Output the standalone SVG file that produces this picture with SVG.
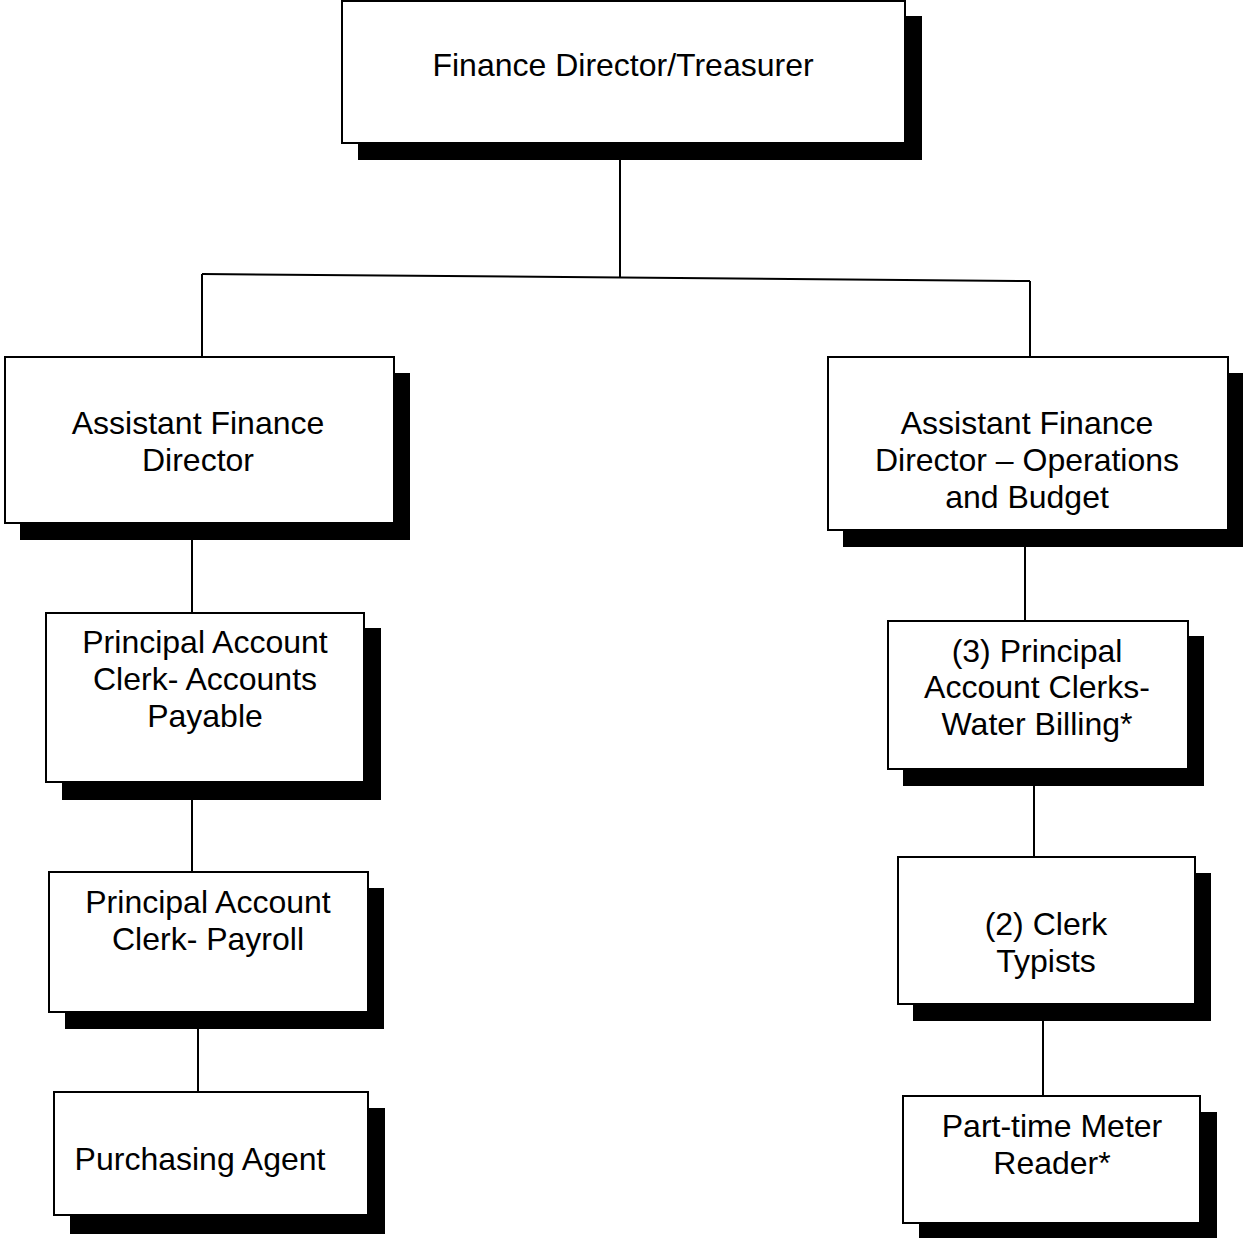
<svg xmlns="http://www.w3.org/2000/svg" width="1243" height="1238" viewBox="0 0 1243 1238">
  <style>
    .shadow { fill: #000; }
    .box { fill: #fff; stroke: #000; stroke-width: 2; }
    .label { font-family: "Liberation Sans", Arial, sans-serif; font-size: 32px; fill: #000; text-anchor: middle; }
    .link { stroke: #000; stroke-width: 2; fill: none; }
  </style>
  <rect width="1243" height="1238" fill="#fff"/>

  <!-- reporting lines -->
  <g id="connectors">
    <line class="link" x1="620" y1="143" x2="620" y2="277"/>
    <line class="link" x1="202" y1="274" x2="1030" y2="281"/>
    <line class="link" x1="202" y1="274" x2="202" y2="357"/>
    <line class="link" x1="1030" y1="281" x2="1030" y2="357"/>
    <line class="link" x1="192" y1="540" x2="192" y2="614"/>
    <line class="link" x1="192" y1="800" x2="192" y2="872"/>
    <line class="link" x1="198" y1="1029" x2="198" y2="1092"/>
    <line class="link" x1="1025" y1="547" x2="1025" y2="621"/>
    <line class="link" x1="1034" y1="786" x2="1034" y2="857"/>
    <line class="link" x1="1043" y1="1021" x2="1043" y2="1096"/>
  </g>

  <g id="finance-director">
    <rect class="shadow" x="358" y="16" width="564" height="144"/>
    <rect class="box" x="342" y="1" width="563" height="142"/>
    <text class="label" x="623" y="76">Finance Director/Treasurer</text>
  </g>

  <g id="assistant-finance-director">
    <rect class="shadow" x="20" y="373" width="390" height="167"/>
    <rect class="box" x="5" y="357" width="389" height="166"/>
    <text class="label" x="198" y="434">Assistant Finance</text>
    <text class="label" x="198" y="471">Director</text>
  </g>

  <g id="assistant-finance-director-ops">
    <rect class="shadow" x="843" y="373" width="400" height="174"/>
    <rect class="box" x="828" y="357" width="400" height="173"/>
    <text class="label" x="1027" y="434">Assistant Finance</text>
    <text class="label" x="1027" y="471">Director – Operations</text>
    <text class="label" x="1027" y="508">and Budget</text>
  </g>

  <g id="clerk-accounts-payable">
    <rect class="shadow" x="62" y="628" width="319" height="172"/>
    <rect class="box" x="46" y="613" width="318" height="169"/>
    <text class="label" x="205" y="653">Principal Account</text>
    <text class="label" x="205" y="690">Clerk- Accounts</text>
    <text class="label" x="205" y="727">Payable</text>
  </g>

  <g id="clerk-payroll">
    <rect class="shadow" x="65" y="888" width="319" height="141"/>
    <rect class="box" x="49" y="872" width="319" height="140"/>
    <text class="label" x="208" y="913">Principal Account</text>
    <text class="label" x="208" y="950">Clerk- Payroll</text>
  </g>

  <g id="purchasing-agent">
    <rect class="shadow" x="70" y="1108" width="315" height="126"/>
    <rect class="box" x="54" y="1092" width="314" height="123"/>
    <text class="label" x="200" y="1170">Purchasing Agent</text>
  </g>

  <g id="clerks-water-billing">
    <rect class="shadow" x="903" y="636" width="301" height="150"/>
    <rect class="box" x="888" y="621" width="300" height="148"/>
    <text class="label" x="1037" y="662">(3) Principal</text>
    <text class="label" x="1037" y="698">Account Clerks-</text>
    <text class="label" x="1037" y="735">Water Billing*</text>
  </g>

  <g id="clerk-typists">
    <rect class="shadow" x="913" y="873" width="298" height="148"/>
    <rect class="box" x="898" y="857" width="297" height="147"/>
    <text class="label" x="1046" y="935">(2) Clerk</text>
    <text class="label" x="1046" y="972">Typists</text>
  </g>

  <g id="meter-reader">
    <rect class="shadow" x="919" y="1112" width="298" height="126"/>
    <rect class="box" x="903" y="1096" width="297" height="127"/>
    <text class="label" x="1052" y="1137">Part-time Meter</text>
    <text class="label" x="1052" y="1174">Reader*</text>
  </g>
</svg>
